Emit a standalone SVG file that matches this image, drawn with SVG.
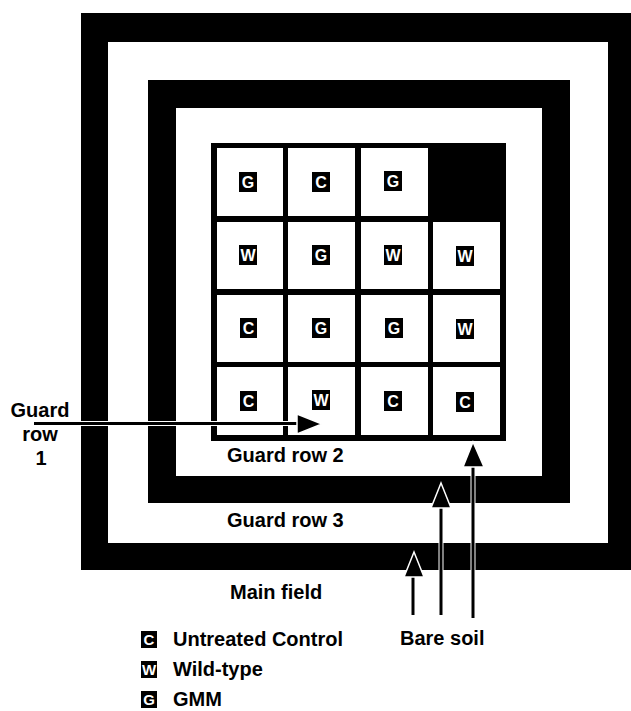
<svg xmlns="http://www.w3.org/2000/svg" width="631" height="711" viewBox="0 0 631 711">
<style>
.blk{fill:#000}
.wht{fill:#fff}
.cell{fill:#fff}
.bd{fill:#000}
.bt{fill:#fff;font-family:"Liberation Sans",Arial,sans-serif;font-weight:bold;font-size:16px;text-anchor:middle}
.lbt{fill:#fff;font-family:"Liberation Sans",Arial,sans-serif;font-weight:bold;font-size:15px;text-anchor:middle}
.lab{fill:#000;font-family:"Liberation Sans",Arial,sans-serif;font-weight:bold;font-size:20px}
.mid{text-anchor:middle}
.halo{stroke:#fff;stroke-width:5;fill:none}
.shaft{stroke:#000;stroke-width:3;fill:none}
.head{fill:#000;stroke:#fff;stroke-width:1.5;stroke-linejoin:miter}
</style>
<rect x="0" y="0" width="631" height="711" fill="#fff"/>
<g id="bands">
  <rect class="blk" x="81" y="13" width="560" height="557"/>
  <rect class="wht" x="108" y="42" width="500" height="501"/>
  <rect class="blk" x="148" y="80" width="422" height="423"/>
  <rect class="wht" x="176" y="108" width="366" height="368"/>
  <rect class="blk" x="211" y="143" width="295" height="298"/>
</g>
<g id="grid">
  <g id="r1c1"><rect class="cell" x="217" y="148" width="66" height="68"/><rect class="bd" x="239" y="172" width="18" height="20"/><text class="bt" x="248" y="187.8">G</text></g>
  <g id="r1c2"><rect class="cell" x="288" y="148" width="67" height="68"/><rect class="bd" x="312" y="172" width="18" height="20"/><text class="bt" x="321" y="187.8">C</text></g>
  <g id="r1c3"><rect class="cell" x="361" y="148" width="67" height="68"/><rect class="bd" x="384" y="171" width="18" height="20"/><text class="bt" x="393" y="186.8">G</text></g>
  <g id="r2c1"><rect class="cell" x="217" y="222" width="66" height="67"/><rect class="bd" x="239" y="245" width="18" height="20"/><text class="bt" x="248" y="260.8">W</text></g>
  <g id="r2c2"><rect class="cell" x="288" y="222" width="67" height="67"/><rect class="bd" x="312" y="245" width="18" height="20"/><text class="bt" x="321" y="260.8">G</text></g>
  <g id="r2c3"><rect class="cell" x="361" y="222" width="67" height="67"/><rect class="bd" x="384" y="245" width="18" height="20"/><text class="bt" x="393" y="260.8">W</text></g>
  <g id="r2c4"><rect class="cell" x="433" y="222" width="67" height="67"/><rect class="bd" x="456" y="246" width="18" height="20"/><text class="bt" x="465" y="261.8">W</text></g>
  <g id="r3c1"><rect class="cell" x="217" y="295" width="66" height="67"/><rect class="bd" x="240" y="318" width="17" height="20"/><text class="bt" x="248.5" y="333.8">C</text></g>
  <g id="r3c2"><rect class="cell" x="288" y="295" width="67" height="67"/><rect class="bd" x="312" y="318" width="18" height="20"/><text class="bt" x="321" y="333.8">G</text></g>
  <g id="r3c3"><rect class="cell" x="361" y="295" width="67" height="67"/><rect class="bd" x="385" y="318" width="18" height="20"/><text class="bt" x="394" y="333.8">G</text></g>
  <g id="r3c4"><rect class="cell" x="433" y="295" width="67" height="67"/><rect class="bd" x="456" y="319" width="18" height="20"/><text class="bt" x="465" y="334.8">W</text></g>
  <g id="r4c1"><rect class="cell" x="217" y="367" width="66" height="68"/><rect class="bd" x="240" y="391" width="17" height="20"/><text class="bt" x="248.5" y="406.8">C</text></g>
  <g id="r4c2"><rect class="cell" x="288" y="367" width="67" height="68"/><rect class="bd" x="312" y="390" width="18" height="20"/><text class="bt" x="321" y="405.8">W</text></g>
  <g id="r4c3"><rect class="cell" x="361" y="367" width="67" height="68"/><rect class="bd" x="384" y="391" width="18" height="20"/><text class="bt" x="393" y="406.8">C</text></g>
  <g id="r4c4"><rect class="cell" x="433" y="367" width="67" height="68"/><rect class="bd" x="456" y="392" width="18" height="20"/><text class="bt" x="465" y="407.8">C</text></g>
</g>
<g id="connectors">
  <line class="halo" x1="34" y1="423.5" x2="298" y2="423.5" stroke-width="4"/>
  <line class="shaft" x1="34" y1="423.5" x2="298" y2="423.5" stroke-width="2.5"/>
  <polygon class="head" points="297,414 322,424 297,434"/>
  <line class="halo" x1="413" y1="615" x2="413" y2="575"/>
  <line class="shaft" x1="413" y1="615" x2="413" y2="575"/>
  <polygon class="head" points="404,577 414,552 424,577"/>
  <line class="halo" x1="441" y1="615" x2="441" y2="506"/>
  <line class="shaft" x1="441" y1="615" x2="441" y2="506" stroke-width="3.5"/>
  <polygon class="head" points="431,508 441,483 451,508"/>
  <line class="halo" x1="473" y1="618" x2="473" y2="465"/>
  <line class="shaft" x1="473" y1="618" x2="473" y2="465"/>
  <polygon class="head" points="463,467 473,442 484,467"/>
</g>
<g id="labels">
  <text class="lab mid" x="40" y="417">Guard</text>
  <text class="lab mid" x="40" y="441">row</text>
  <text class="lab mid" x="41" y="465">1</text>
  <text class="lab" x="227" y="462">Guard row 2</text>
  <text class="lab" x="227" y="527">Guard row 3</text>
  <text class="lab" x="230" y="599">Main field</text>
  <text class="lab" x="400" y="645">Bare soil</text>
</g>
<g id="legend">
  <g id="leg-c"><rect class="bd" x="141" y="631" width="16" height="17"/><text class="lbt" x="149" y="645">C</text><text class="lab" x="173" y="646">Untreated Control</text></g>
  <g id="leg-w"><rect class="bd" x="141" y="661" width="16" height="17"/><text class="lbt" x="149" y="675">W</text><text class="lab" x="173" y="676">Wild-type</text></g>
  <g id="leg-g"><rect class="bd" x="141" y="691" width="16" height="17"/><text class="lbt" x="149" y="705">G</text><text class="lab" x="173" y="706">GMM</text></g>
</g>
</svg>
